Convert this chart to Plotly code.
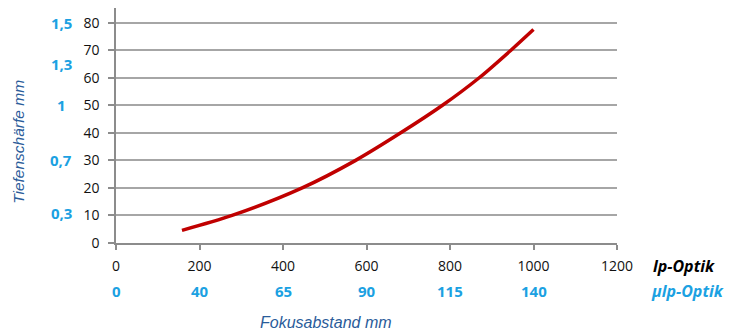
import plotly.graph_objects as go

# ---- data ----
focus_lp = [158, 278, 446, 574, 682, 782, 870, 946, 1000]      # Fokusabstand (lp-Optik) mm
depth_mm = [4.6, 10, 20, 30, 40, 50, 60, 70, 77.5]             # Tiefenschärfe mm

x_ticks = [0, 200, 400, 600, 800, 1000, 1200]
mu_x_labels = ["0", "40", "65", "90", "115", "140"]            # µlp-Optik distances
mu_x_pos = [0, 200, 400, 600, 800, 1000]

y_ticks = [0, 10, 20, 30, 40, 50, 60, 70, 80]
mu_y_labels = ["1,5", "1,3", "1", "0,7", "0,3"]                # µlp-Optik depth of field
mu_y_pos = [80, 65, 50, 30, 11]

# the page body adds an 8px offset; lay out in reference pixels minus that offset
OFF = 8
W, H = 740 - OFF, 332 - OFF
ML, MR, MT, MB = 116 - OFF, 123, 0, 332 - 243.3
PW, PH = W - ML - MR, H - MT - MB
Y_MAX = (243.3 - OFF) / ((243.3 - 22.7) / 80)

def px_x(p):
    return (p - OFF - ML) / PW

def px_y(p):
    return (H - MB - (p - OFF)) / PH

BLUE = "#1ba1e2"
DARKBLUE = "#2a5c9a"
GRID = "#a6a6a6"
AXIS = "#8c8c8c"

fig = go.Figure()
fig.add_trace(go.Scatter(
    x=focus_lp, y=depth_mm, mode="lines",
    line=dict(color="#c00000", width=3.5, shape="spline", smoothing=0.8),
    hoverinfo="x+y", showlegend=False,
))

annotations = []
for lab, pos in zip(mu_x_labels, mu_x_pos):
    annotations.append(dict(x=pos, xref="x", y=px_y(291), yref="paper",
                            text=lab, showarrow=False, xanchor="center", yanchor="middle",
                            font=dict(family="Open Sans", size=15, color=BLUE, weight="bold")))
for lab, pos in zip(mu_y_labels, mu_y_pos):
    annotations.append(dict(x=px_x(61), xref="paper", y=pos, yref="y",
                            text=lab, showarrow=False, xanchor="center", yanchor="middle",
                            font=dict(family="Open Sans", size=15, color=BLUE, weight="bold")))
annotations += [
    dict(x=px_x(651), xref="paper", y=px_y(266), yref="paper", text="<b><i>lp-Optik</i></b>",
         showarrow=False, xanchor="left", yanchor="middle",
         font=dict(family="Open Sans", size=16, color="#000000")),
    dict(x=px_x(649), xref="paper", y=px_y(291), yref="paper", text="<b><i>µlp-Optik</i></b>",
         showarrow=False, xanchor="left", yanchor="middle",
         font=dict(family="Open Sans", size=16, color=BLUE)),
    dict(x=px_x(326), xref="paper", y=px_y(322.5), yref="paper", text="<i>Fokusabstand mm</i>",
         showarrow=False, xanchor="center", yanchor="middle",
         font=dict(family="Liberation Sans", size=16, color=DARKBLUE)),
    dict(x=px_x(19), xref="paper", y=px_y(142), yref="paper", text="<i>Tiefenschärfe mm</i>",
         showarrow=False, xanchor="center", yanchor="middle", textangle=-90,
         font=dict(family="Liberation Sans", size=15.5, color=DARKBLUE)),
]

fig.update_layout(
    width=W, height=H,
    margin=dict(l=ML, r=MR, t=MT, b=MB, pad=0, autoexpand=False),
    paper_bgcolor="white", plot_bgcolor="white",
    font=dict(family="Open Sans", size=14, color="#111111"),
    annotations=annotations,
    xaxis=dict(range=[0, 1200], tickvals=x_ticks, ticks="outside", ticklen=5,
               tickcolor=AXIS, tickwidth=1.5, showline=True, linecolor=AXIS, linewidth=1.5,
               showgrid=False, zeroline=False, ticklabelstandoff=4, automargin=False,
               tickfont=dict(family="Open Sans", size=14, color="#111111")),
    yaxis=dict(range=[0, Y_MAX], tickvals=y_ticks, ticks="outside", ticklen=6,
               tickcolor=AXIS, tickwidth=1.5, showline=True, linecolor=AXIS, linewidth=1.5,
               showgrid=True, gridcolor=GRID, gridwidth=1.5, zeroline=False,
               ticklabelstandoff=6, automargin=False,
               tickfont=dict(family="Open Sans", size=14, color="#111111")),
)

fig.write_html("out.html")
